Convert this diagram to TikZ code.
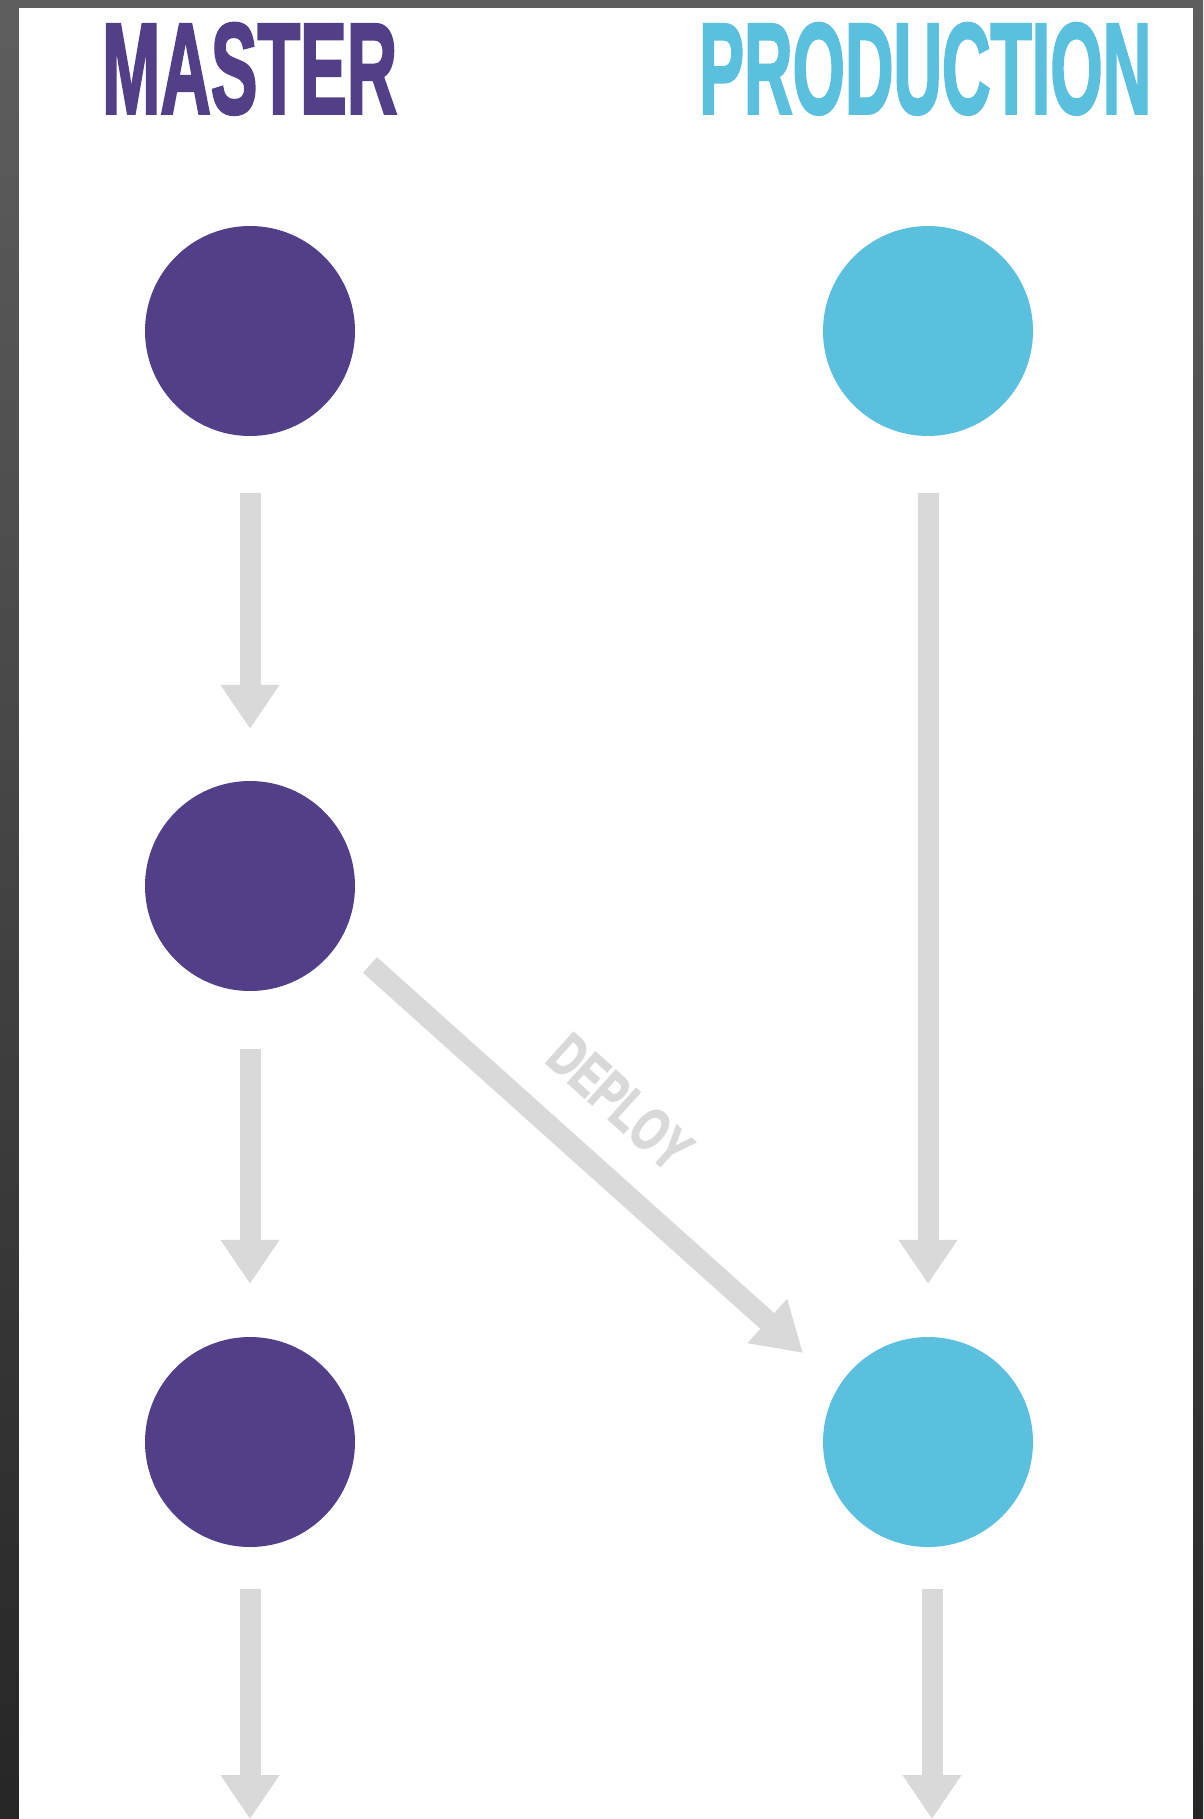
\documentclass[tikz,border=0pt]{standalone}
\usepackage{fontspec}
\usepackage{graphicx}
\setmainfont{Liberation Sans}
\newfontfamily\titlefont{Liberation Sans}[FakeBold=2.5]
\usetikzlibrary{arrows.meta,calc}
\definecolor{mpurple}{HTML}{533F88}
\definecolor{pcyan}{HTML}{5BC0DD}
\definecolor{agray}{HTML}{D9D9D9}
\definecolor{bgtop}{HTML}{5E5E5E}
\definecolor{bgbot}{HTML}{262626}
\tikzset{
  commit/.style={circle, minimum size=210pt, inner sep=0pt, draw=none},
  mcommit/.style={commit, fill=mpurple},
  pcommit/.style={commit, fill=pcyan},
  flow/.style={draw=agray, line width=21pt, line cap=butt,
    -{Triangle[width=56pt,length=44pt]}},
  deployflow/.style={draw=agray, line width=21pt, line cap=butt,
    -{Triangle[width=56pt,length=48pt]}},
  title/.style={anchor=north west, inner sep=0pt},
}
\begin{document}
\begin{tikzpicture}[x=1pt,y=1pt]
\useasboundingbox (0,0) rectangle (1203,-1819);
\shade[top color=bgtop, bottom color=bgbot] (0,0) rectangle (1203,-1819);
\fill[white] (19,-8) rectangle (1193,-1819);

\node[title, text=mpurple] (tm) at (102,-23) {\resizebox{295pt}{90pt}{\titlefont\bfseries MASTER}};
\node[title, text=pcyan] (tp) at (699,-23) {\resizebox{452pt}{90pt}{\titlefont\bfseries PRODUCTION}};

\node[mcommit] (m1) at (250,-331) {};
\node[mcommit] (m2) at (250,-886) {};
\node[mcommit] (m3) at (250,-1442) {};
\node[pcommit] (p1) at (928,-331) {};
\node[pcommit] (p2) at (928,-1442) {};

\coordinate (mend) at (250,-1819);
\coordinate (pend) at (932,-1819);

\draw[flow, shorten <=57pt, shorten >=52pt] (m1) -- (m2);
\draw[flow, shorten <=58pt, shorten >=53pt] (m2) -- (m3);
\draw[flow, shorten <=42pt] (m3) -- (mend);
\draw[flow, shorten <=57pt, shorten >=53pt] (p1) -- (p2);
\draw[flow, shorten <=42pt] ([xshift=4pt]p2.south) -- (pend);

\draw[deployflow] ($(m2)+(120,-79)$) -- ($(p2)+(-125,89)$);
\node[rotate=-42, inner sep=0pt, text=agray] (dl) at (620,-1102)
  {\resizebox{168pt}{42pt}{\titlefont\bfseries DEPLOY}};
\end{tikzpicture}
\end{document}
